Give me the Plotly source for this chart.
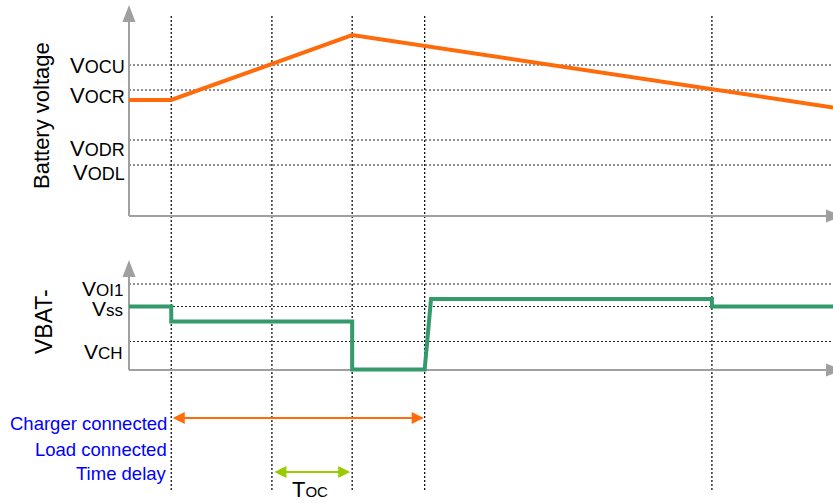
import plotly.graph_objects as go

W, H = 833, 504

# ---------------- data (arbitrary time units / voltage units) -------------
t_batt = [0, 6, 31.7, 100]
v_batt = [3.8, 3.8, 5.1, 3.65]

t_vbat = [0, 6, 6, 31.7, 31.7, 42.0, 42.9, 82.8, 82.8, 100]
v_vbat = [0, 0, -0.3, -0.3, -1.26, -1.26, 0.15, 0.15, 0, 0]

event_times = [6, 20.3, 31.7, 42.0, 82.8]

top_levels = [4.5, 4.0, 3.0, 2.5]
top_main = ["V", "V", "V", "V"]
top_sub = ["OCU", "OCR", "ODR", "ODL"]

bot_levels = [0.45, 0.0, -0.7]
bot_main = ["V", "V", "V"]
bot_sub = ["OI1", "ss", "CH"]

charger_span = [6, 42.0]
toc_span = [20.3, 31.7]

row_labels = ["Charger connected", "Load connected", "Time delay"]

# ---------------- styling ----------------
ORANGE = "#ff6a0a"
GREEN = "#339a6b"
LIME = "#99cc00"
AXIS = "#a0a0a0"
BLUE = "#0000ff"
FONT = "Liberation Sans, Arial, sans-serif"


def px(x):
    return x / W


def py(y):
    return 1 - y / H


fig = go.Figure()
fig.add_trace(go.Scatter(x=t_batt, y=v_batt, mode="lines",
                         line=dict(color=ORANGE, width=4), xaxis="x", yaxis="y",
                         hoverinfo="skip"))
fig.add_trace(go.Scatter(x=t_vbat, y=v_vbat, mode="lines",
                         line=dict(color=GREEN, width=4), xaxis="x2", yaxis="y2",
                         hoverinfo="skip"))

shapes = []
# event dotted verticals
for t in event_times:
    shapes.append(dict(type="line", xref="x", yref="paper", x0=t, x1=t,
                       y0=py(490), y1=py(14),
                       line=dict(color="black", width=1.2, dash="2px,2px"), layer="below"))
# level dotted horizontals
for lv in top_levels:
    shapes.append(dict(type="line", xref="paper", yref="y", x0=px(129), x1=1,
                       y0=lv, y1=lv,
                       line=dict(color="#222222", width=1.2, dash="2px,2px"), layer="below"))
for lv in bot_levels:
    shapes.append(dict(type="line", xref="paper", yref="y2", x0=px(129), x1=1,
                       y0=lv, y1=lv,
                       line=dict(color="#222222", width=1.2, dash="2px,2px"), layer="below"))


# axes lines + arrowheads
def axis_pair(base_px, top_px):
    out = []
    out.append(dict(type="line", xref="paper", yref="paper", x0=px(129), x1=px(129),
                    y0=py(base_px), y1=py(top_px + 14), line=dict(color=AXIS, width=2),
                    layer="below"))
    out.append(dict(type="line", xref="paper", yref="paper", x0=px(129), x1=px(828),
                    y0=py(base_px), y1=py(base_px), line=dict(color=AXIS, width=2),
                    layer="below"))
    out.append(dict(type="path", xref="paper", yref="paper",
                    path=f"M {px(129)},{py(top_px)} L {px(135.5)},{py(top_px + 17)} "
                         f"L {px(122.5)},{py(top_px + 17)} Z",
                    fillcolor=AXIS, line=dict(width=0), layer="below"))
    out.append(dict(type="path", xref="paper", yref="paper",
                    path=f"M {px(843)},{py(base_px)} L {px(826)},{py(base_px - 6.5)} "
                         f"L {px(826)},{py(base_px + 6.5)} Z",
                    fillcolor=AXIS, line=dict(width=0), layer="below"))
    return out


shapes += axis_pair(216, 5)
shapes += axis_pair(370, 260)

annotations = []


def lab(main, sub, msize, ssize):
    return (f'<span style="font-size:{msize}px">{main}</span>'
            f'<span style="font-size:{ssize}px">{sub}</span>')


top_shift = [0, -5, -8, -7]
for lv, m, s, sh in zip(top_levels, top_main, top_sub, top_shift):
    annotations.append(dict(x=px(127), y=lv, xref="paper", yref="y", yshift=sh,
                            text=lab(m, s, 22, 18), showarrow=False,
                            xanchor="right", yanchor="middle",
                            font=dict(family=FONT, size=22, color="black")))
bot_shift = [-4, -2, -10]
for lv, m, s, sh in zip(bot_levels, bot_main, bot_sub, bot_shift):
    annotations.append(dict(x=px(125), y=lv, xref="paper", yref="y2", yshift=sh,
                            text=lab(m, s, 21, 17), showarrow=False,
                            xanchor="right", yanchor="middle",
                            font=dict(family=FONT, size=21, color="black")))

# axis titles
annotations.append(dict(x=px(42), y=py(116), xref="paper", yref="paper",
                        text="Battery voltage", textangle=-90, showarrow=False,
                        xanchor="center", yanchor="middle",
                        font=dict(family=FONT, size=22, color="black")))
annotations.append(dict(x=px(44), y=py(322), xref="paper", yref="paper",
                        text="VBAT-", textangle=-90, showarrow=False,
                        xanchor="center", yanchor="middle",
                        font=dict(family=FONT, size=23, color="black")))

# row labels
for txt, ypx in zip(row_labels, [423, 449, 473.5]):
    annotations.append(dict(x=px(169), y=py(ypx), xref="paper", yref="paper",
                            text=txt, showarrow=False, xanchor="right", yanchor="middle",
                            font=dict(family=FONT, size=18.5, color=BLUE)))

# double arrows
annotations.append(dict(x=charger_span[1], y=py(418), xref="x", yref="paper",
                        ax=charger_span[0], ay=0, axref="x", ayref="pixel",
                        text="", showarrow=True, arrowside="end+start",
                        arrowhead=2, startarrowhead=2, arrowsize=1.2, startarrowsize=1.2,
                        arrowwidth=2, arrowcolor=ORANGE, standoff=1, startstandoff=0))
annotations.append(dict(x=toc_span[1], y=py(472), xref="x", yref="paper",
                        ax=toc_span[0], ay=0, axref="x", ayref="pixel",
                        text="", showarrow=True, arrowside="end+start",
                        arrowhead=2, startarrowhead=2, arrowsize=1.2, startarrowsize=1.2,
                        arrowwidth=2, arrowcolor=LIME, standoff=2, startstandoff=1))
annotations.append(dict(x=px(310), y=py(489), xref="paper", yref="paper",
                        text=lab("T", "OC", 22, 15), showarrow=False,
                        xanchor="center", yanchor="middle",
                        font=dict(family=FONT, size=22, color="black")))

ax_common = dict(visible=False, showgrid=False, zeroline=False, fixedrange=True)
fig.update_layout(
    width=W, height=H,
    margin=dict(l=0, r=0, t=0, b=0),
    paper_bgcolor="white", plot_bgcolor="rgba(0,0,0,0)",
    showlegend=False,
    font=dict(family=FONT),
    xaxis=dict(domain=[px(129), 1], range=[0, 100], anchor="y", **ax_common),
    yaxis=dict(domain=[py(230), 1], range=[3.0 + (140 - 230) / 50, 3.0 + 140 / 50],
               anchor="x", **ax_common),
    xaxis2=dict(domain=[px(129), 1], range=[0, 100], anchor="y2", **ax_common),
    yaxis2=dict(domain=[py(385), py(250)], range=[(306.5 - 385) / 50, (306.5 - 250) / 50],
                anchor="x2", **ax_common),
    shapes=shapes,
    annotations=annotations,
)

fig.write_html("out.html", config={"displayModeBar": False},
               post_script="document.body.style.margin='0';document.body.style.overflow='hidden';")
